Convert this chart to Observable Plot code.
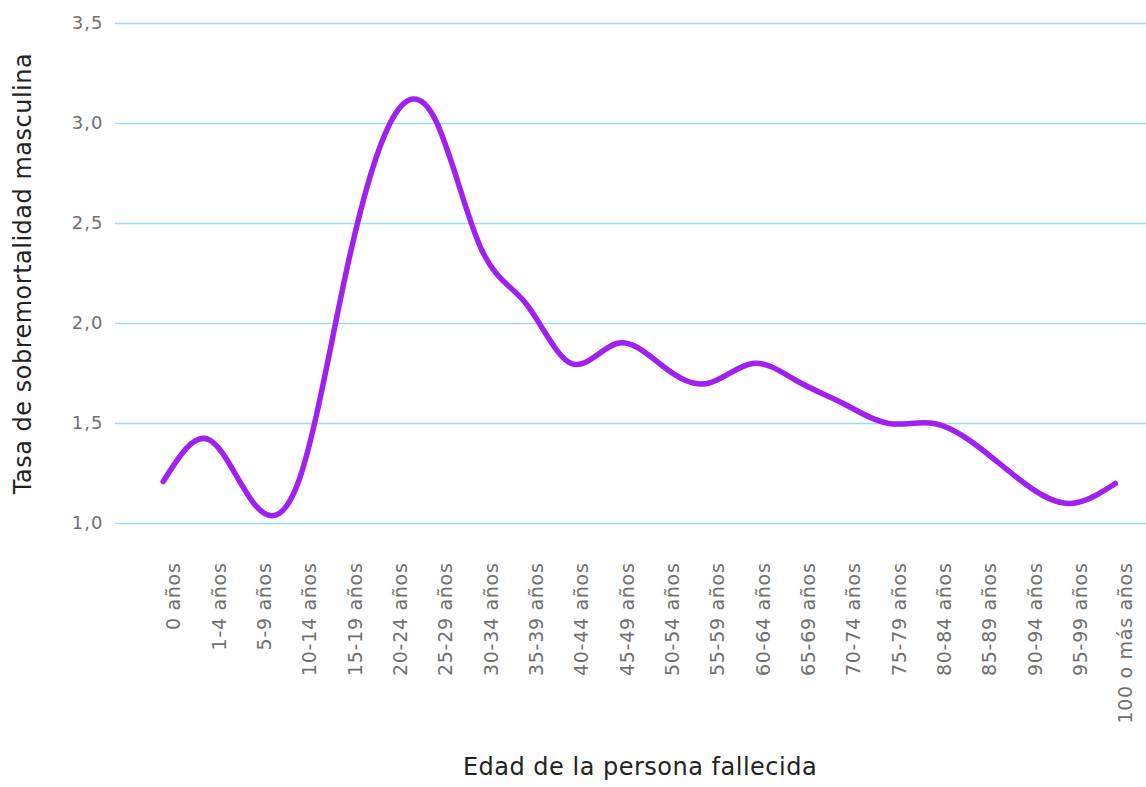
<!DOCTYPE html>
<html>
<head>
<meta charset="utf-8">
<script src="https://cdn.jsdelivr.net/npm/d3@7"></script>
<script src="https://cdn.jsdelivr.net/npm/@observablehq/plot@0.6"></script>
<style>
  html, body { margin: 0; padding: 0; background: #fff; }
  svg { font-family: "DejaVu Sans", "Noto Sans", sans-serif; }
  g[aria-label="x-axis tick label"] text { letter-spacing: 0.7px; }
  g[aria-label="y-axis tick label"] text { letter-spacing: 1px; }
  g[aria-label="text"] text { letter-spacing: 0.5px; }
</style>
</head>
<body>
<div id="chart"></div>
<script>
const ages = ["0 años", "1-4 años", "5-9 años", "10-14 años", "15-19 años", "20-24 años",
  "25-29 años", "30-34 años", "35-39 años", "40-44 años", "45-49 años", "50-54 años",
  "55-59 años", "60-64 años", "65-69 años", "70-74 años", "75-79 años", "80-84 años",
  "85-89 años", "90-94 años", "95-99 años", "100 o más años"];
const rates = [1.21, 1.42, 1.1, 1.22, 2.22, 3.0, 3.02, 2.38, 2.1, 1.8, 1.9, 1.79,
  1.7, 1.8, 1.71, 1.6, 1.5, 1.5, 1.38, 1.2, 1.1, 1.2];
const yTicks = [1.0, 1.5, 2.0, 2.5, 3.0, 3.5];
const xTitle = "Edad de la persona fallecida";
const yTitle = "Tasa de sobremortalidad masculina";

const data = ages.map((a, i) => ({age: a, rate: rates[i]}));

const chart = Plot.plot({
  width: 1146,
  height: 787,
  marginLeft: 115,
  marginRight: 0,
  marginTop: 23,
  marginBottom: 264,
  x: {type: "point", domain: ages, padding: 0.87, align: 0.605, round: false},
  y: {domain: [1, 3.5]},
  marks: [
    Plot.ruleY(yTicks, {stroke: "#9cdaf2", strokeWidth: 1.5}),
    Plot.axisY({ticks: yTicks, tickSize: 0, tickPadding: 12, fontSize: 18, fill: "#707070",
      tickFormat: d => d.toFixed(1).replace(".", ","), label: null}),
    Plot.axisX({tickRotate: -90, tickSize: 0, tickPadding: 39, fontSize: 19, fill: "#707070", label: null,
      dx: 11}),
    Plot.lineY(data, {x: "age", y: "rate", curve: "natural", stroke: "#a020f0", strokeWidth: 5.5}),
    Plot.text([yTitle], {frameAnchor: "left", textAnchor: "middle", rotate: -90, dx: -92, fontSize: 24,
      fill: "#222"}),
    Plot.text([xTitle], {frameAnchor: "bottom", dy: 251, dx: 9, fontSize: 24, fill: "#222"})
  ]
});
document.getElementById("chart").appendChild(chart);
</script>
</body>
</html>
